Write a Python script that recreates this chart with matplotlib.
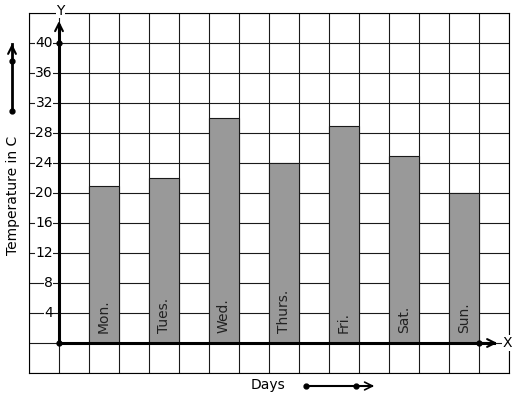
import matplotlib
matplotlib.use("Agg")
import matplotlib.pyplot as plt
import numpy as np

days = ["Mon.", "Tues.", "Wed.", "Thurs.", "Fri.", "Sat.", "Sun."]
temps = [21, 22, 30, 24, 29, 25, 20]
y_ticks = [4, 8, 12, 16, 20, 24, 28, 32, 36, 40]

fig = plt.figure(figsize=(5.17, 3.99), dpi=100)
ax = fig.add_axes([29 / 517, 26 / 399, 480 / 517, 360 / 399])
ax.set_xlim(-1, 15)
ax.set_ylim(-4, 44)

# square grid
for gx in range(-1, 16):
    ax.axvline(gx, color="#1a1a1a", lw=0.8, zorder=1)
for gy in range(-4, 45, 4):
    ax.axhline(gy, color="#1a1a1a", lw=0.8, zorder=1)
for s in ax.spines.values():
    s.set_linewidth(0.8)
ax.set_xticks([])
ax.set_yticks([])

# bars
xs = np.arange(len(days)) * 2 + 1.5
ax.bar(xs, temps, width=1.0, color="#999999", edgecolor="#1a1a1a", lw=0.8, zorder=2)
for x, d in zip(xs, days):
    ax.text(x, 1.3, d, rotation=90, ha="center", va="bottom", fontsize=10,
            color="#222222", zorder=3)

# axes with arrows
ax.plot([0, 0], [0, 42.5], color="black", lw=2.2, zorder=4, solid_capstyle="butt")
ax.annotate("", xy=(0, 43.3), xytext=(0, 41),
            arrowprops=dict(arrowstyle="->", lw=1.5, color="black",
                            mutation_scale=14), zorder=4)
ax.plot([0, 14.5], [0, 0], color="black", lw=2.2, zorder=4)
ax.annotate("", xy=(14.7, 0), xytext=(13.9, 0),
            arrowprops=dict(arrowstyle="->", lw=1.5, color="black",
                            mutation_scale=14), zorder=4,
            annotation_clip=False)
ax.plot([0, 0, 14], [0, 40, 0], "o", color="black", ms=3.5, zorder=5, clip_on=False)
ax.text(0.05, 44.3, "Y", ha="center", va="center", fontsize=10, zorder=6,
        bbox=dict(fc="white", ec="none", pad=0.5), clip_on=False)
ax.text(14.95, 0, "X", ha="center", va="center", fontsize=10, zorder=6,
        bbox=dict(fc="white", ec="none", pad=0.5), clip_on=False)

# y tick labels over the grid
for t in y_ticks:
    ax.text(-0.2, t, str(t), ha="right", va="center", fontsize=10, zorder=6,
            bbox=dict(fc="white", ec="none", pad=0.3))

# axis titles with decorative arrows
fig.text(13 / 517, 1 - 195 / 399, "Temperature in C", rotation=90,
         ha="center", va="center", fontsize=10)
fig.text(268 / 517, 1 - 385 / 399, "Days", ha="center", va="center", fontsize=10)

fa = fig.add_axes([0, 0, 1, 1], facecolor="none")
fa.set_xlim(0, 517)
fa.set_ylim(399, 0)
fa.axis("off")
fa.plot([12, 12], [111, 44], color="black", lw=2)
fa.annotate("", xy=(12, 41), xytext=(12, 52),
            arrowprops=dict(arrowstyle="->", lw=1.5, color="black",
                            mutation_scale=14))
fa.plot([12, 12], [111, 61], "o", color="black", ms=3.5)
fa.plot([306, 372], [386, 386], color="black", lw=1.5)
fa.annotate("", xy=(377, 386), xytext=(364, 386),
            arrowprops=dict(arrowstyle="->", lw=1.2, color="black",
                            mutation_scale=14))
fa.plot([306, 356], [386, 386], "o", color="black", ms=3.5)

fig.savefig("out.png", dpi=100)
